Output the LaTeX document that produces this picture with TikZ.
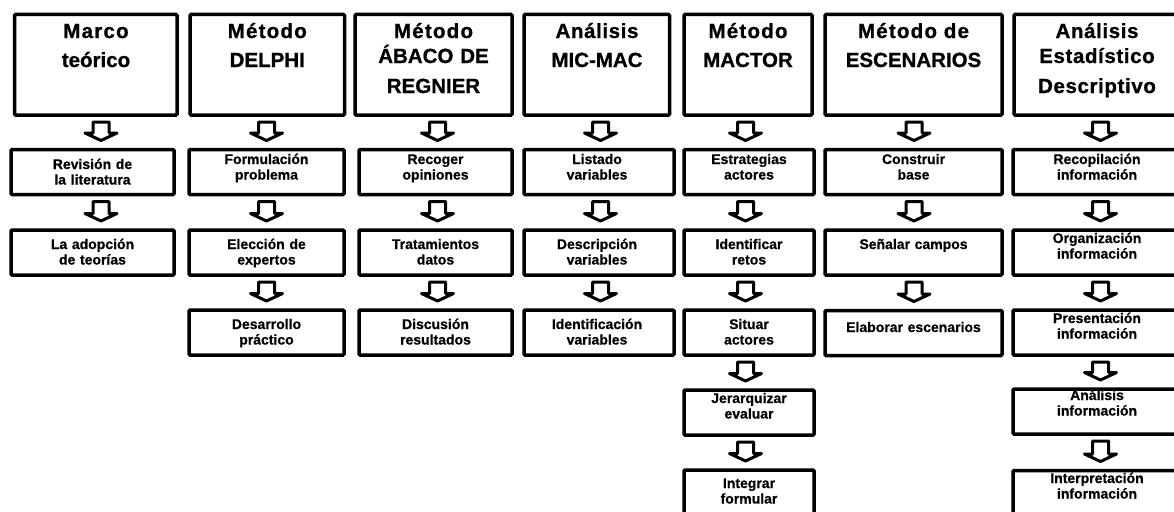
\documentclass[tikz,border=0pt]{standalone}
\usepackage{fontspec}
\setmainfont{Liberation Sans}
\newfontfamily\hdfont{Liberation Sans}[BoldFeatures={FakeBold=0.9}]
\newfontfamily\cefont{Liberation Sans}[BoldFeatures={FakeBold=0.6}]
\usetikzlibrary{calc}
\newcommand\lsA[1]{{\addfontfeatures{LetterSpace=6}#1}}
\newcommand\lsB[1]{{\addfontfeatures{LetterSpace=3}#1}}
\begin{document}
\begin{tikzpicture}[x=1pt,y=-1pt,
  head/.style={draw, line width=3.5pt, rounded corners=1pt, minimum height=100.5pt, outer sep=0pt, inner sep=0pt},
  cell/.style={draw, line width=3.5pt, rounded corners=1pt, minimum height=45pt, outer sep=0pt, inner sep=0pt},
  htwo/.style={anchor=base, inner sep=0pt, text width=175pt, align=center, font=\hdfont\bfseries\fontsize{20.5}{29}\selectfont},
  hthree/.style={anchor=base, inner sep=0pt, text width=175pt, align=center, font=\hdfont\bfseries\fontsize{20.5}{25}\selectfont},
  ctext/.style={anchor=base, inner sep=0pt, text width=170pt, align=center, font=\cefont\bfseries\fontsize{14}{15.5}\selectfont},
  flow/.style={draw, line width=3pt, line join=round, fill=white,
    to path={let \p1=(\tikztostart), \p2=(\tikztotarget) in
      (\x1-8pt,\y1-7pt) -- (\x1+8pt,\y1-7pt) -- (\x1+8pt,\y2+16.5pt) -- (\x1+16pt,\y2+16.5pt)
      -- (\x1,\y2+9pt) -- (\x1-16pt,\y2+16.5pt) -- (\x1-8pt,\y2+16.5pt) -- cycle}}
]
\useasboundingbox (0,0) rectangle (1174,511);
\clip (0,0) rectangle (1174,511);

% header boxes
\node[head, minimum width=162.5pt] (h1) at (95.75,64.75) {};
\node[head, minimum width=154.5pt] (h2) at (267.25,64.75) {};
\node[head, minimum width=157pt]   (h3) at (433.5,64.75) {};
\node[head, minimum width=145.5pt] (h4) at (596.75,64.75) {};
\node[head, minimum width=128pt]   (h5) at (748,64.75) {};
\node[head, minimum width=177pt]   (h6) at (913.5,64.75) {};
\node[head, minimum width=166pt]   (h7) at (1097,64.75) {};

% header texts
\node[htwo] (th1) at (96,38) {\lsA{Marco}\\teórico};
\node[htwo] (th2) at (267.25,38) {\lsA{Método}\\DELPHI};
\node[hthree] (th3) at (433.5,38) {\lsA{Método}\\ÁBACO DE\\[5pt]REGNIER};
\node[htwo] (th4) at (597,38) {\lsB{Análisis}\\MIC-MAC};
\node[htwo] (th5) at (748,38) {\lsA{Método}\\MACTOR};
\node[htwo] (th6) at (913.5,38) {\lsA{Método de}\\ESCENARIOS};
\node[hthree] (th7) at (1097,38) {\lsB{Análisis}\\\lsB{Estadístico}\\[5pt]\lsB{Descriptivo}};

% column 1
\node[cell, minimum width=163pt] (b11) at (92.5,172) {};
\node[cell, minimum width=163pt] (b12) at (92.5,252.5) {};
% column 2
\node[cell, minimum width=155pt] (b21) at (266.5,172) {};
\node[cell, minimum width=155pt] (b22) at (266.5,252.5) {};
\node[cell, minimum width=155pt] (b23) at (266.5,332.5) {};
% column 3
\node[cell, minimum width=153pt] (b31) at (435.5,172) {};
\node[cell, minimum width=153pt] (b32) at (435.5,252.5) {};
\node[cell, minimum width=153pt] (b33) at (435.5,332.5) {};
% column 4
\node[cell, minimum width=150pt] (b41) at (599,172) {};
\node[cell, minimum width=150pt] (b42) at (599,252.5) {};
\node[cell, minimum width=150pt] (b43) at (599,332.5) {};
% column 5
\node[cell, minimum width=130pt] (b51) at (749,172) {};
\node[cell, minimum width=130pt] (b52) at (749,252.5) {};
\node[cell, minimum width=130pt] (b53) at (749,332.5) {};
\node[cell, minimum width=130pt] (b54) at (749,412.5) {};
\node[cell, minimum width=130pt] (b55) at (749,492.5) {};
% column 6
\node[cell, minimum width=177pt] (b61) at (913.5,172) {};
\node[cell, minimum width=177pt] (b62) at (913.5,252.5) {};
\node[cell, minimum width=177pt] (b63) at (913.5,333) {};
% column 7
\node[cell, minimum width=168pt] (b71) at (1097,172) {};
\node[cell, minimum width=168pt] (b72) at (1097,252.5) {};
\node[cell, minimum width=168pt] (b73) at (1097,332.5) {};
\node[cell, minimum width=168pt] (b74) at (1097,411.5) {};
\node[cell, minimum width=168pt] (b75) at (1097,493) {};

% cell texts
\node[ctext] (t11) at (92.5,169) {Revisión de\\la literatura};
\node[ctext] (t12) at (92.5,249) {La adopción\\de teorías};
\node[ctext] (t21) at (266.5,164) {Formulación\\problema};
\node[ctext] (t22) at (266.5,249) {Elección de\\expertos};
\node[ctext] (t23) at (266.5,329) {Desarrollo\\práctico};
\node[ctext] (t31) at (435.5,164) {Recoger\\opiniones};
\node[ctext] (t32) at (435.5,249) {Tratamientos\\datos};
\node[ctext] (t33) at (435.5,329) {Discusión\\resultados};
\node[ctext] (t41) at (597,164) {Listado\\variables};
\node[ctext] (t42) at (597,249) {Descripción\\variables};
\node[ctext] (t43) at (597,329) {Identificación\\variables};
\node[ctext] (t51) at (749,164) {Estrategias\\actores};
\node[ctext] (t52) at (749,249) {Identificar\\retos};
\node[ctext] (t53) at (749,329) {Situar\\actores};
\node[ctext] (t54) at (749,403) {Jerarquizar\\evaluar};
\node[ctext] (t55) at (749,488) {Integrar\\formular};
\node[ctext] (t61) at (913.5,164) {Construir\\base};
\node[ctext] (t62) at (913.5,249) {Señalar campos};
\node[ctext] (t63) at (913.5,332) {Elaborar escenarios};
\node[ctext] (t71) at (1097,164) {Recopilación\\información};
\node[ctext] (t72) at (1097,243) {Organización\\información};
\node[ctext] (t73) at (1097,323) {Presentación\\información};
\node[ctext] (t74) at (1097,400) {Análisis\\información};
\node[ctext] (t75) at (1097,483) {Interpretación\\información};

% arrow axes
\coordinate (a1) at (101,0);
\coordinate (a2) at (266.5,0);
\coordinate (a3) at (437.5,0);
\coordinate (a4) at (600.5,0);
\coordinate (a5) at (745.5,0);
\coordinate (a6) at (914,0);
\coordinate (a7) at (1100.5,0);

% arrows
\draw[flow] (a1 |- h1.south) to (a1 |- b11.north);
\draw[flow] (a1 |- b11.south) to (a1 |- b12.north);

\draw[flow] (a2 |- h2.south) to (a2 |- b21.north);
\draw[flow] (a2 |- b21.south) to (a2 |- b22.north);
\draw[flow] (a2 |- b22.south) to (a2 |- b23.north);

\draw[flow] (a3 |- h3.south) to (a3 |- b31.north);
\draw[flow] (a3 |- b31.south) to (a3 |- b32.north);
\draw[flow] (a3 |- b32.south) to (a3 |- b33.north);

\draw[flow] (a4 |- h4.south) to (a4 |- b41.north);
\draw[flow] (a4 |- b41.south) to (a4 |- b42.north);
\draw[flow] (a4 |- b42.south) to (a4 |- b43.north);

\draw[flow] (a5 |- h5.south) to (a5 |- b51.north);
\draw[flow] (a5 |- b51.south) to (a5 |- b52.north);
\draw[flow] (a5 |- b52.south) to (a5 |- b53.north);
\draw[flow] (a5 |- b53.south) to (a5 |- b54.north);
\draw[flow] (a5 |- b54.south) to (a5 |- b55.north);

\draw[flow] (a6 |- h6.south) to (a6 |- b61.north);
\draw[flow] (a6 |- b61.south) to (a6 |- b62.north);
\draw[flow] (a6 |- b62.south) to (a6 |- b63.north);

\draw[flow] (a7 |- h7.south) to (a7 |- b71.north);
\draw[flow] (a7 |- b71.south) to (a7 |- b72.north);
\draw[flow] (a7 |- b72.south) to (a7 |- b73.north);
\draw[flow] (a7 |- b73.south) to (a7 |- b74.north);
\draw[flow] (a7 |- b74.south) to (a7 |- b75.north);
\end{tikzpicture}
\end{document}
